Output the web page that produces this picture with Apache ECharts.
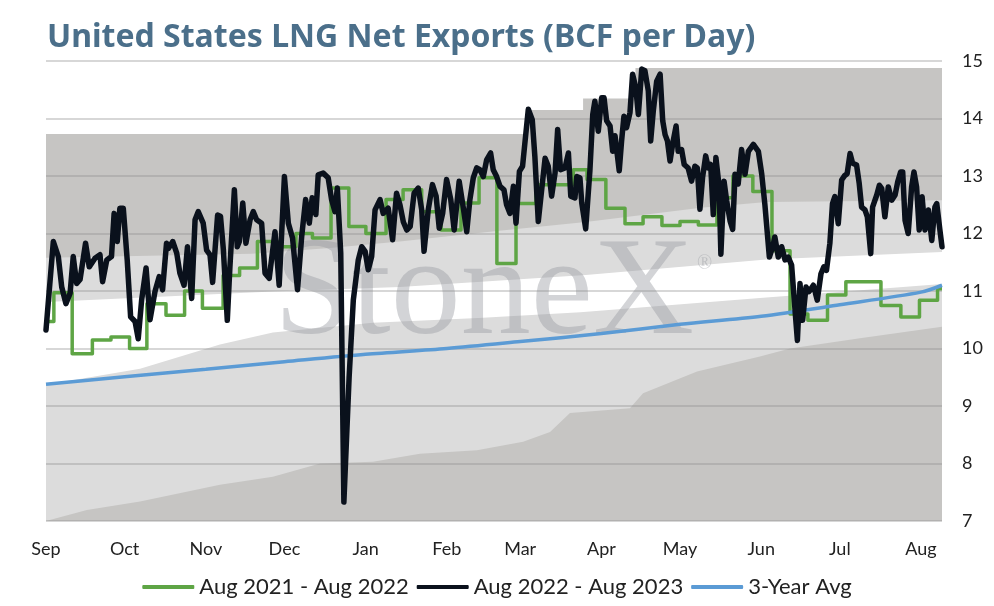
<!DOCTYPE html>
<html><head><meta charset="utf-8">
<script src="https://cdn.jsdelivr.net/npm/echarts@6/dist/echarts.min.js"></script>
<style>html,body{margin:0;padding:0;background:#fff}#c{width:994px;height:606px}</style>
</head><body><div id="c"></div>
<script>
// ---- Axis labels ----
const monthLabels = ['Sep','Oct','Nov','Dec','Jan','Feb','Mar','Apr','May','Jun','Jul','Aug'];
const monthStartDays = [0,30,61,91,122,153,181,212,242,273,303,334];
const seasonLastDay = 342;

// ---- Aug 2022 - Aug 2023 (daily) ----
const blackDays = [0,2.8,4.7,6,7.6,9.2,10.4,11.7,13,15.1,16.5,18.7,20.6,21.6,23.2,25,26,27.2,28.2,29.5,31,32.3,34,35.2,36.5,38.2,39.7,41.6,43.2,44.5,46,46.7,48.4,49.9,51.1,52.7,54,55.6,56.9,58.1,60,61.3,62.6,63.6,65.5,66.6,67.7,69.2,70.2,71.9,73,73.8,75.1,76.3,77.9,79.1,80.4,82.3,83.6,85.2,87.4,89,91,92.5,94.1,96,97.6,99.1,100.5,101.6,103,103.9,105.8,107.7,109,110.3,111.2,112.5,113.7,115.7,117.3,119.2,120.5,121.8,123,124.3,125.6,127.5,128.7,130.6,132.3,133.8,135.1,136.4,137.7,139,140.5,142.1,143.4,144.3,145.9,147.5,148.9,150.1,151.4,152.9,154.5,155.8,157.7,159.3,160.6,161.8,163.1,164.4,165.6,166.9,168.2,169.7,170.7,172,173.3,174.8,175.8,177.1,178.4,179.4,180.7,181.9,182.8,184.1,185.6,186.6,187.9,189.2,190.5,191.7,193,194.3,195.3,196.4,198.1,199.4,200.3,201.9,202.6,203.8,204.5,206,207.6,208.7,209.5,210.8,212.1,213,214,215.3,216.3,217.2,218.8,219.7,220.6,221.6,222.9,223.9,225.1,226.1,227.4,228.6,229.9,230.8,231.8,233.1,234.4,235.4,236.3,237.2,238.2,239.4,240.5,241.3,242.6,243.6,245.1,246.4,247.7,248.6,249.6,250.6,251.8,252.8,253.7,254.7,255.7,256.9,257.6,258.8,259.8,261.1,262.1,263,264.2,265.5,266.8,268.1,270,271.9,273.2,274.4,276.1,277.4,278.2,279.5,280.8,282.1,283.3,284.6,285.9,286.8,287.8,288.8,290.1,291.3,292.9,294.4,295.8,296.9,297.9,299.2,300.2,301.1,302.4,303.7,304.9,305.8,306.9,307.9,309.4,310.4,311.3,312.6,313.5,314.8,315.5,317.1,318.1,319,320.2,321.5,322.8,324.1,325.1,326.2,327,327.9,329.1,330.4,331.3,332.3,333.3,334.4,335.5,336.8,338.1,339.3,340,341.2,342];
const blackValues = [10.32,11.86,11.6,11.07,10.78,10.96,11.6,11.13,11.2,11.83,11.42,11.57,11.63,11.16,11.54,11.6,12.35,11.86,12.44,12.44,11.54,10.55,10.47,10.17,10.84,11.4,10.5,10.99,11.25,11.02,11.83,11.74,11.86,11.66,11.31,11.1,11.77,10.87,12.24,12.38,12.18,11.71,11.63,11.15,12.32,12.3,11.72,10.49,11.42,12.76,11.77,11.86,12.53,11.83,12.24,12.38,12.24,12.18,11.31,11.22,12.03,11.1,12.99,12.18,11.92,11.02,11.95,12.59,12.18,12.62,12.33,13.02,13.05,12.97,12.59,12.38,12.79,11.66,7.33,9.5,10.84,11.54,11.77,11.69,11.37,11.6,12.41,12.59,12.35,12.44,11.89,12.7,12.5,12.2,12.06,12.12,12.7,12.79,12.41,11.69,12.41,12.85,12.65,12.09,12.35,12.94,12.59,12.06,12.91,12.44,12.03,12.59,12.97,13.14,13.11,12.99,13.28,13.4,13.11,12.99,12.82,12.76,12.5,12.35,12.82,12.18,13.08,13.17,13.58,14.16,13.98,13.34,12.21,12.76,13.31,13.17,12.65,13.05,13.81,13.11,13.14,13.4,12.65,12.62,12.99,12.97,12.53,12.08,13.09,14.07,14.3,13.78,14.36,14.36,13.96,13.87,13.43,13.7,13.09,13.61,14.04,13.84,14.1,14.77,14.54,14.07,14.86,14.83,14.48,13.61,14.13,14.65,14.77,13.96,13.72,13.61,13.26,13.61,13.87,13.43,13.46,13.2,13.14,12.91,13.17,13.14,12.42,12.97,13.35,13.14,13.2,12.33,13.32,12.83,11.64,12.91,12.57,12.22,12.07,13.03,12.86,13.46,13.03,13.43,13.55,13.43,13.03,12.5,11.59,11.77,11.94,11.59,11.77,11.54,11.59,11.45,10.67,10.14,11.13,10.49,11.07,10.99,11.1,10.84,11.3,11.42,11.36,11.83,12.52,12.64,12.17,12.93,13.01,13.04,13.39,13.22,13.19,12.87,12.46,12.41,12.29,11.65,12.46,12.67,12.84,12.78,12.29,12.81,12.58,12.67,12.9,13.07,13.07,12.23,12.0,12.81,13.07,12.81,12.06,12.64,12.06,12.41,11.88,12.46,12.52,12.06,11.77];

// ---- Aug 2021 - Aug 2022 (weekly steps) ----
const greenDays = [0,3,10,17.7,24.8,31.9,38.5,45.8,52.9,59.7,67.6,73.9,80.7,88.4,95.4,101.7,108.8,115.6,122.1,129.8,136.3,143.4,150.8,158.4,165.3,172.1,179.4,187,201.3,206.5,213.7,221,227.9,235.1,242,249,256.1,262.2,269.8,277.1,284,290.8,298.3,305.3,318.7,326.3,333.4,340.3,342];
const greenValues = [10.47,10.97,9.91,10.15,10.2,10.0,10.78,10.58,11.0,10.7,11.27,11.4,11.86,11.77,12.0,11.92,12.79,12.12,12.0,12.59,12.76,12.38,12.06,12.53,12.97,11.48,12.52,12.85,13.11,12.94,12.44,12.17,12.29,12.14,12.21,12.15,12.62,13.0,12.73,11.7,10.6,10.49,10.93,11.16,10.75,10.55,10.84,11.04,11.04];

// ---- 3-Year Avg ----
const avgDays = [0,30,61,91,122,153,181,212,242,273,303,334,342];
const avgValues = [9.38,9.51,9.64,9.77,9.9,10.0,10.12,10.26,10.42,10.56,10.76,10.98,11.1];

// ---- Background range bands ----
const maxDays = [0,183.2,205,225,342];
const maxValues = [13.73,14.15,14.35,14.88,14.88];
const upperDays = [0,78.6,108.4,135,173,206,250,275,342];
const upperValues = [11.58,11.65,11.75,11.86,12.05,12.2,12.45,12.55,12.58];
const midHighDays = [0,86.6,135,206,275,342];
const midHighValues = [10.81,10.99,11.07,11.28,11.55,11.68];
const midLowDays = [0,35.9,66.4,86.6,124.8,165,204,248.5,272.5,342];
const midLowValues = [9.37,9.65,10.07,10.28,10.45,10.53,10.63,10.79,10.88,11.12];
const minDays = [0,15.6,35.9,66.4,86.6,104.6,124.8,142.7,164.5,182.1,192.4,200,222.9,227.9,248.5,272.5,284,310.7,342];
const minValues = [7.0,7.19,7.34,7.63,7.77,8.0,8.03,8.17,8.23,8.38,8.55,8.88,8.96,9.22,9.6,9.86,10.0,10.18,10.38];

const zip = (a, b) => a.map((d, i) => [d, b[i]]);
const DARK = '#c6c5c3', LIGHT = '#dcdcdc';
const WM = 'rgba(150,153,160,0.42)';

function band(name, days, vals, color, step) {
  return {
    name, type: 'line', data: zip(days, vals), step: step || false,
    symbol: 'none', silent: true, z: 1,
    lineStyle: { width: 0 },
    areaStyle: { color, opacity: 1, origin: 'start' }
  };
}

const chart = echarts.init(document.getElementById('c'), null, { renderer: 'canvas' });
chart.setOption({
  animation: false,
  backgroundColor: '#ffffff',
  title: {
    text: 'United States LNG Net Exports (BCF per Day)',
    left: 42, top: 17,
    textStyle: { fontFamily: 'Noto Sans', fontWeight: 'bold', fontSize: 32, color: '#4b6f8a' }
  },
  grid: { left: 46, right: 52, top: 61, bottom: 85 },
  legend: {
    data: ['Aug 2021 - Aug 2022', 'Aug 2022 - Aug 2023', '3-Year Avg'],
    top: 571, left: 'center',
    icon: 'roundRect', itemWidth: 52, itemHeight: 4, itemGap: 8,
    textStyle: { fontFamily: 'Lato', fontSize: 22, color: '#222' }
  },
  graphic: [
    { type: 'text', z: 2, silent: true,
      style: { text: 'StoneX', x: 274, y: 366, font: '140px "Liberation Serif"', fill: WM, textVerticalAlign: 'bottom' } },
    { type: 'text', z: 2, silent: true,
      style: { text: '®', x: 697, y: 254, font: '20px "Liberation Serif"', fill: WM } }
  ],
  xAxis: {
    type: 'value', min: 0, max: seasonLastDay,
    splitLine: { show: false }, axisLine: { show: false }, axisTick: { show: false },
    axisLabel: {
      customValues: monthStartDays,
      formatter: v => monthLabels[monthStartDays.indexOf(v)] || '',
      margin: 19, fontFamily: 'Lato', fontSize: 18, color: '#222'
    }
  },
  yAxis: {
    type: 'value', position: 'right', min: 7, max: 15, interval: 1, z: 3,
    axisLine: { show: false }, axisTick: { show: false },
    splitLine: { lineStyle: { color: 'rgba(140,140,140,0.35)', width: 2 } },
    axisLabel: { margin: 20, fontFamily: 'Lato', fontSize: 18, color: '#222' }
  },
  series: [
    band('max', maxDays, maxValues, DARK, 'end'),
    band('upper', upperDays, upperValues, LIGHT),
    band('midHigh', midHighDays, midHighValues, '#ffffff'),
    band('midLow', midLowDays, midLowValues, LIGHT),
    band('min', minDays, minValues, DARK),
    { name: 'Aug 2021 - Aug 2022', type: 'line', data: zip(greenDays, greenValues), step: 'end',
      symbol: 'none', z: 4, color: '#5ea545',
      lineStyle: { color: '#5ea545', width: 3.5, join: 'round' } },
    { name: 'Aug 2022 - Aug 2023', type: 'line', data: zip(blackDays, blackValues),
      symbol: 'none', z: 5, color: '#0a111c',
      lineStyle: { color: '#0a111c', width: 5.5, join: 'round', cap: 'round' } },
    { name: '3-Year Avg', type: 'line', data: zip(avgDays, avgValues), smooth: 0.3,
      symbol: 'none', z: 4, color: '#5b9bd5',
      lineStyle: { color: '#5b9bd5', width: 3.5 } }
  ]
});
</script></body></html>
